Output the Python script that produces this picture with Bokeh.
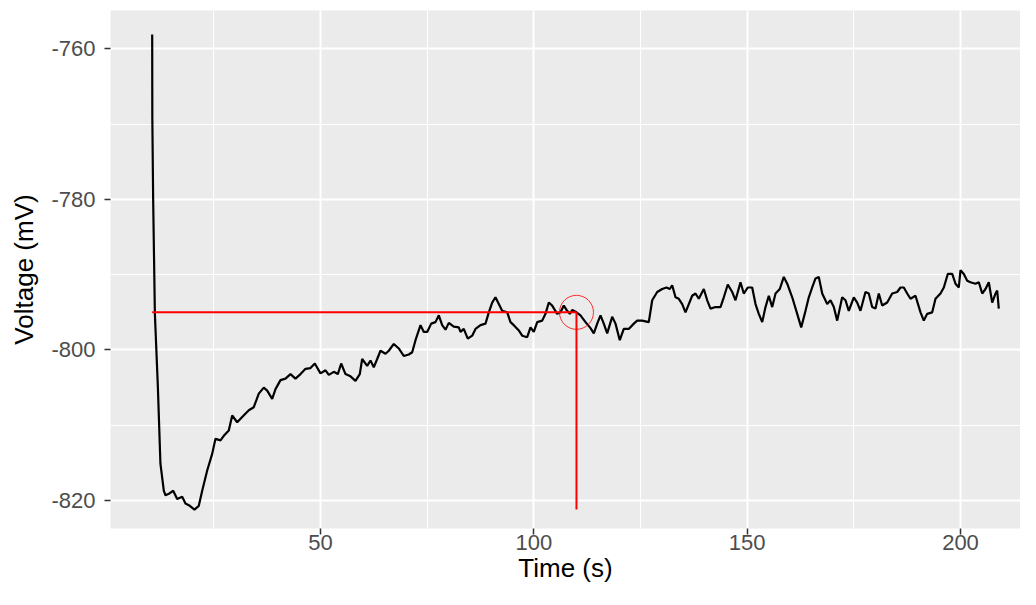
from bokeh.plotting import figure
from bokeh.models import Range1d, FixedTicker, PrintfTickFormatter
from bokeh.embed import file_html
from bokeh.resources import INLINE

# Data (time in s, voltage in mV)
time_s = [10.57, 10.6, 10.8, 11.2, 11.9, 12.5, 13.3, 13.69, 14.46, 15.49, 16.43, 17.60, 18.37, 19.38,
          20.48, 21.49, 22.29, 23.46, 24.63, 25.40, 26.58, 27.35, 28.52, 29.32, 30.49, 31.66,
          33.21, 34.38, 35.55, 36.72, 37.52, 38.69, 39.47, 40.64, 41.81, 42.98, 44.15, 45.33,
          46.50, 47.67, 48.68, 50.01, 51.19, 51.96, 53.13, 54.07, 54.86, 55.87, 57.04, 58.21,
          59.22, 59.78, 60.96, 61.73, 62.50, 63.30, 64.07, 65.25, 66.02, 67.19, 68.36, 69.53,
          70.71, 71.50, 72.28, 73.45, 74.22, 75.02, 75.95, 76.96, 77.74, 78.53, 79.31, 80.08,
          81.25, 82.42, 82.82, 83.59, 84.53, 85.56, 86.34, 87.51, 88.68, 89.46, 90.25, 91.02,
          91.80, 92.59, 93.77, 94.54, 95.31, 96.49, 97.28, 98.45, 99.23, 100.00, 100.80, 101.97,
          102.74, 103.52, 104.31, 105.48, 106.26, 107.03, 107.83, 108.44, 109.00, 110.01, 110.94,
          112.12, 113.29, 114.06, 114.86, 115.63, 116.40, 117.20, 118.37, 119.15, 120.15, 121.09,
          122.26, 123.44, 124.23, 125.40, 126.95, 127.75, 128.92, 130.09, 131.10, 131.87, 132.43,
          133.21, 133.98, 134.78, 135.55, 136.33, 137.12, 137.90, 138.67, 139.84, 140.64, 141.41,
          142.58, 143.75, 144.53, 145.46, 146.50, 147.27, 148.44, 149.21, 150.15, 151.18, 151.96,
          152.73, 153.53, 154.30, 155.08, 155.87, 156.65, 157.65, 158.59, 159.39, 160.56, 161.73,
          162.67, 163.68, 164.45, 165.24, 166.02, 166.79, 167.59, 168.76, 169.53, 170.31, 171.10,
          172.27, 173.05, 173.82, 174.99, 175.79, 176.56, 177.73, 178.51, 179.30, 180.08, 180.85,
          181.65, 182.82, 183.99, 185.16, 185.94, 186.71, 187.51, 188.28, 189.45, 190.63, 191.40,
          192.19, 193.37, 194.14, 195.31, 196.09, 197.02, 198.06, 198.83, 199.60, 200.00, 200.77,
          201.57, 202.34, 203.51, 204.29, 205.09, 205.86, 206.63, 207.43, 208.20, 208.60, 208.97]
voltage_mv = [-758.1, -769.1, -780.1, -795.2, -804.9, -815.1, -818.7, -819.3, -819.1, -818.7, -819.8,
              -819.5, -820.4, -820.7, -821.2, -820.7, -818.7, -816.0, -813.8, -811.8, -812.0, -811.4,
              -810.7, -808.7, -809.6, -808.9, -808.0, -807.6, -805.8, -805.0, -805.4, -806.5, -805.2,
              -804.0, -803.8, -803.2, -803.8, -803.2, -802.5, -802.4, -801.8, -803.1, -802.7, -803.3,
              -802.9, -803.2, -801.8, -803.2, -803.5, -804.1, -803.2, -801.2, -802.1, -801.4, -802.3,
              -801.2, -800.1, -800.5, -800.1, -799.2, -799.8, -800.8, -800.6, -800.3, -798.7, -796.7,
              -797.6, -797.6, -796.5, -796.3, -795.4, -796.7, -797.3, -796.4, -796.9, -797.0, -797.6,
              -797.2, -798.5, -798.1, -797.2, -796.7, -796.5, -795.0, -793.7, -793.0, -793.9, -794.8,
              -795.0, -796.3, -796.7, -797.4, -798.1, -798.3, -797.0, -797.6, -796.3, -796.1, -795.2,
              -793.7, -794.1, -795.2, -795.0, -794.1, -794.8, -795.2, -794.7, -795.0, -795.4, -796.3,
              -797.1, -797.8, -796.5, -795.4, -796.5, -797.8, -795.6, -796.5, -798.7, -797.2, -797.2,
              -796.5, -796.1, -796.1, -796.3, -793.4, -792.3, -791.9, -791.7, -791.9, -791.4, -793.0,
              -793.2, -793.9, -795.0, -793.9, -792.8, -792.5, -793.2, -791.9, -793.4, -794.5, -794.3,
              -794.3, -793.0, -791.3, -792.3, -793.4, -791.0, -792.5, -791.7, -791.7, -793.9, -795.2,
              -796.3, -794.3, -792.8, -794.3, -792.5, -791.9, -790.3, -791.2, -793.0, -795.2, -797.0,
              -794.8, -793.0, -791.7, -790.5, -790.3, -792.5, -793.9, -793.4, -794.3, -796.1, -793.0,
              -793.4, -794.8, -793.0, -793.7, -794.8, -792.3, -792.5, -794.3, -794.5, -792.5, -794.1,
              -793.7, -792.5, -792.3, -791.7, -791.7, -792.5, -793.2, -792.8, -795.0, -796.1, -795.2,
              -795.0, -793.2, -792.5, -791.7, -789.9, -789.9, -791.2, -791.7, -789.4, -789.9, -790.8,
              -791.0, -791.2, -791.0, -792.5, -791.9, -791.0, -793.7, -792.5, -792.1, -794.5]

ref_time = 110.0
ref_voltage = -795.0

x_ticks = [50, 100, 150, 200]
x_minor = [25, 75, 125, 175]
y_ticks = [-820, -800, -780, -760]
y_minor = [-810, -790, -770]

FONT = "Liberation Sans"

p = figure(width=1020, height=589, output_backend="svg", toolbar_location=None,
           x_range=Range1d(0.8, 214.06), y_range=Range1d(-823.71, -754.91),
           min_border_left=110, min_border_right=0, min_border_top=10, min_border_bottom=61,
           background_fill_color="#EBEBEB", border_fill_color="white",
           x_axis_label="Time (s)", y_axis_label="Voltage (mV)")
p.outline_line_color = None

p.xaxis.ticker = FixedTicker(ticks=x_ticks, minor_ticks=x_minor)
p.yaxis.ticker = FixedTicker(ticks=y_ticks, minor_ticks=y_minor)
p.xaxis.formatter = PrintfTickFormatter(format="%d")
p.yaxis.formatter = PrintfTickFormatter(format="%d")

for ax in (p.xaxis[0], p.yaxis[0]):
    ax.axis_line_color = None
    ax.major_tick_line_color = "#333333"
    ax.major_tick_line_width = 1.5
    ax.major_tick_out = 6
    ax.major_tick_in = 0
    ax.minor_tick_line_color = None
    ax.major_label_text_font = FONT
    ax.major_label_text_font_size = "22px"
    ax.major_label_text_color = "#4D4D4D"
    ax.axis_label_text_font = FONT
    ax.axis_label_text_font_size = "26px"
    ax.axis_label_text_font_style = "normal"
    ax.axis_label_text_color = "black"

p.yaxis.major_label_standoff = 9
p.yaxis.axis_label_standoff = 9
p.xaxis.major_label_standoff = 0
p.xaxis.axis_label_standoff = 0

for g in (p.xgrid[0], p.ygrid[0]):
    g.grid_line_color = "white"
    g.grid_line_width = 2
    g.minor_grid_line_color = "white"
    g.minor_grid_line_width = 1

p.line(time_s, voltage_mv, line_color="black", line_width=2.2)

p.segment(x0=[time_s[0], ref_time], y0=[ref_voltage, ref_voltage],
          x1=[ref_time, ref_time], y1=[ref_voltage, min(voltage_mv)],
          line_color="#FF0000", line_width=2)
p.scatter(x=[ref_time], y=[ref_voltage], marker="circle", size=34,
          fill_color=None, line_color="#FF0000", line_alpha=0.8, line_width=1)

open("out.html", "w").write(file_html(p, INLINE))
